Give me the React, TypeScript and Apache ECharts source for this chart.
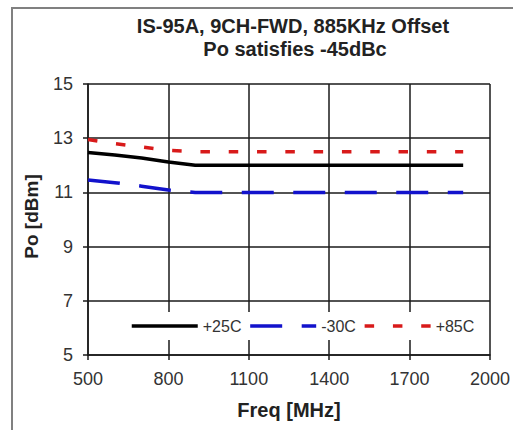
import React, { useEffect, useRef } from 'react';
import * as echarts from 'echarts';

const freqMHz = [500, 600, 700, 800, 900, 1000, 1100, 1200, 1300, 1400, 1500, 1600, 1700, 1800, 1900];
const po25C = [12.47, 12.38, 12.27, 12.12, 12.0, 12.0, 12.0, 12.0, 12.0, 12.0, 12.0, 12.0, 12.0, 12.0, 12.0];
const poMinus30C = [11.46, 11.36, 11.23, 11.09, 11.0, 11.0, 11.0, 11.0, 11.0, 11.0, 11.0, 11.0, 11.0, 11.0, 11.0];
const po85C = [12.95, 12.8, 12.68, 12.55, 12.5, 12.5, 12.5, 12.5, 12.5, 12.5, 12.5, 12.5, 12.5, 12.5, 12.5];
const seriesNames = ['+25C', '-30C', '+85C'];
const xTicks = [500, 800, 1100, 1400, 1700, 2000];
const yTicks = [5, 7, 9, 11, 13, 15];
const titleLines = ['IS-95A, 9CH-FWD, 885KHz Offset', 'Po satisfies -45dBc'];
const xName = 'Freq [MHz]';
const yName = 'Po [dBm]';

const FONT = '"Liberation Sans", Arial, sans-serif';

export default function App() {
  const ref = useRef<HTMLDivElement>(null);
  useEffect(() => {
    if (!ref.current) return;
    const chart = echarts.init(ref.current, null, { renderer: 'svg' });
    const pairs = (ys: number[]) => freqMHz.map((f, i) => [f, ys[i]]);
    const gridColor = '#1a1a1a';
    chart.setOption({
      animation: false,
      backgroundColor: '#ffffff',
      textStyle: { fontFamily: FONT },
      grid: { left: 88, top: 84, right: 20, bottom: 75, containLabel: false },
      graphic: [
        {
          type: 'rect',
          shape: { x: 12, y: 8, width: 700, height: 600 },
          style: { fill: 'none', stroke: '#808080', lineWidth: 2 },
          z: 100,
        },
        {
          type: 'text',
          x: 293,
          y: 26,
          style: {
            text: titleLines[0],
            align: 'center',
            verticalAlign: 'middle',
            font: `bold 20px ${FONT}`,
            fill: '#222',
          },
        },
        {
          type: 'text',
          x: 295,
          y: 49,
          style: {
            text: titleLines[1],
            align: 'center',
            verticalAlign: 'middle',
            font: `bold 20px ${FONT}`,
            fill: '#222',
          },
        },
      ],
      legend: {
        data: seriesNames,
        left: 122,
        top: 312,
        padding: [6, 8],
        backgroundColor: '#ffffff',
        itemWidth: 66,
        itemHeight: 14,
        itemGap: 7,
        textStyle: { fontSize: 16, color: '#333', fontFamily: FONT, lineHeight: 16 },
        lineStyle: { width: 'inherit' },
        itemStyle: { opacity: 0 },
      },
      xAxis: {
        type: 'value',
        min: xTicks[0],
        max: xTicks[xTicks.length - 1],
        interval: xTicks[1] - xTicks[0],
        name: xName,
        nameLocation: 'middle',
        nameGap: 45,
        nameTextStyle: { fontSize: 20, fontWeight: 'bold', color: '#222', fontFamily: FONT },
        axisLine: { show: true, lineStyle: { color: gridColor, width: 1.5 } },
        axisTick: { show: true, length: 5, lineStyle: { color: gridColor, width: 1.5 } },
        axisLabel: {
          fontSize: 18,
          color: '#333',
          margin: 15,
          fontFamily: FONT,
          formatter: (v: number) => String(v),
        },
        splitLine: { show: true, lineStyle: { color: gridColor, width: 1.5 } },
      },
      yAxis: {
        type: 'value',
        min: yTicks[0],
        max: yTicks[yTicks.length - 1],
        interval: yTicks[1] - yTicks[0],
        name: yName,
        nameLocation: 'middle',
        nameGap: 47,
        nameTextStyle: {
          fontSize: 19,
          fontWeight: 'bold',
          color: '#222',
          fontFamily: FONT,
          padding: [0, 0, 0, 6],
        },
        axisLine: { show: true, lineStyle: { color: gridColor, width: 1.5 } },
        axisTick: { show: true, length: 5, lineStyle: { color: gridColor, width: 1.5 } },
        axisLabel: {
          fontSize: 18,
          color: '#333',
          margin: 15,
          fontFamily: FONT,
          formatter: (v: number) => String(v),
        },
        splitLine: { show: true, lineStyle: { color: gridColor, width: 1.5 } },
      },
      series: [
        {
          name: seriesNames[0],
          type: 'line',
          data: pairs(po25C),
          symbol: 'none',
          lineStyle: { color: '#000000', width: 3.5, type: 'solid' },
          itemStyle: { color: '#000000' },
        },
        {
          name: seriesNames[1],
          type: 'line',
          data: pairs(poMinus30C),
          symbol: 'none',
          lineStyle: { color: '#1212cc', width: 3.5, type: [32, 19.5] },
          itemStyle: { color: '#1212cc' },
        },
        {
          name: seriesNames[2],
          type: 'line',
          data: pairs(po85C),
          symbol: 'none',
          lineStyle: { color: '#d81a1a', width: 3.5, type: [9.5, 18.8] },
          itemStyle: { color: '#d81a1a' },
        },
      ],
    });
    return () => chart.dispose();
  }, []);
  return (
    <div
      ref={ref}
      style={{ position: 'fixed', left: 0, top: 0, width: 513, height: 430, background: '#fff' }}
    />
  );
}
